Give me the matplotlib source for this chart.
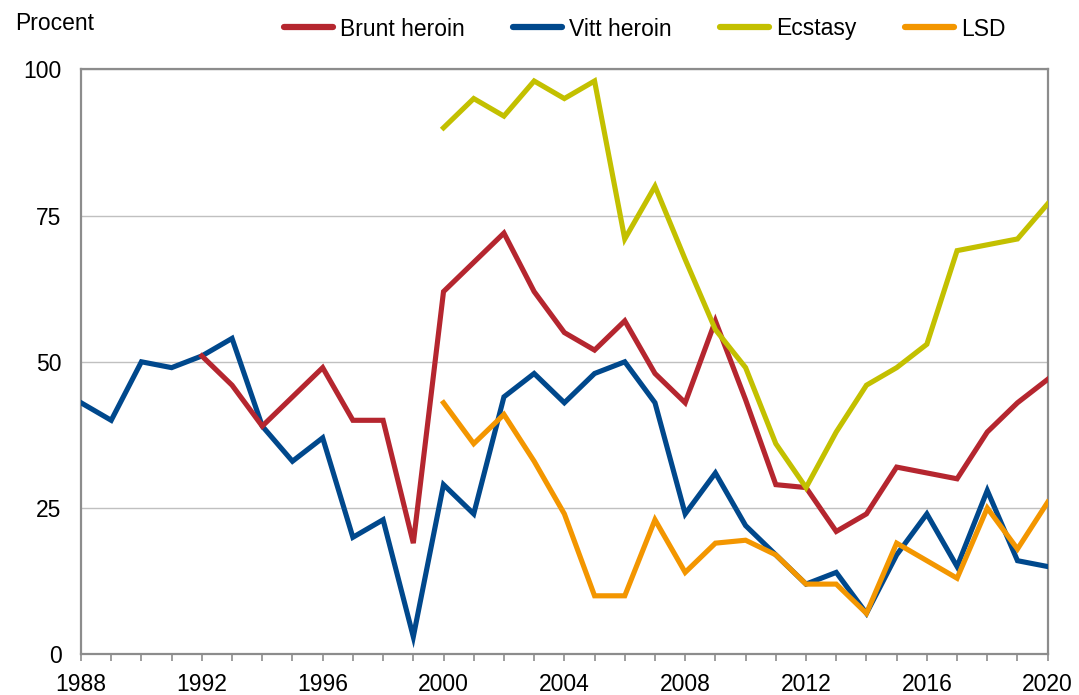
import matplotlib
matplotlib.use("Agg")
import matplotlib.pyplot as plt

plt.rcParams['font.family'] = ['Liberation Sans', 'DejaVu Sans']

years = list(range(1988, 2021))

# Brunt heroin (from 1992)
brunt_years = list(range(1992, 2021))
brunt = [51, 46, 39, 44, 49, 40, 40, 19, 62, 67, 72, 62, 55, 52, 57, 48, 43,
         57, 43.5, 29, 28.5, 21, 24, 32, 31, 30, 38, 43, 47]

# Vitt heroin (1988-2020)
vitt = [43, 40, 50, 49, 51, 54, 39, 33, 37, 20, 23, 3, 29, 24, 44, 48, 43,
        48, 50, 43, 24, 31, 22, 17, 12, 14, 7, 17, 24, 15, 28, 16, 15]

# Ecstasy and LSD (from 2000)
late_years = list(range(2000, 2021))
ecstasy = [90, 95, 92, 98, 95, 98, 71, 80, 67.5, 55.5, 49, 36, 28.5, 38, 46,
           49, 53, 69, 70, 71, 77]
lsd = [43, 36, 41, 33, 24, 10, 10, 23, 14, 19, 19.5, 17, 12, 12, 7, 19, 16,
       13, 25, 18, 26]

series_names = ['Brunt heroin', 'Vitt heroin', 'Ecstasy', 'LSD']
colors = ['#b5262f', '#00488c', '#c3c000', '#f39600']

fs = 16.5

fig = plt.figure(figsize=(10.79, 6.95), dpi=100)
ax = fig.add_axes([81 / 1079, 1 - 654.3 / 695, (1047.7 - 81) / 1079, (654.3 - 69.3) / 695])

lw = 3.7
ax.plot(years, vitt, color=colors[1], lw=lw, solid_joinstyle='miter', label=series_names[1], zorder=3)
ax.plot(brunt_years, brunt, color=colors[0], lw=lw, solid_joinstyle='miter', label=series_names[0], zorder=4)
ax.plot(late_years, ecstasy, color=colors[2], lw=lw, solid_joinstyle='miter', label=series_names[2], zorder=5)
ax.plot(late_years, lsd, color=colors[3], lw=lw, solid_joinstyle='miter', label=series_names[3], zorder=6)

ax.set_xlim(1988, 2020)
ax.set_ylim(0, 100)
ax.set_xticks(years, minor=True)
ax.set_xticks(list(range(1988, 2021, 4)))
ax.set_yticks([0, 25, 50, 75, 100])
ax.yaxis.grid(True, color='#c0c0c0', lw=1.0)
ax.set_axisbelow(True)

for s in ax.spines.values():
    s.set_color('#8c8c8c')
    s.set_linewidth(1.6)

ax.tick_params(axis='y', length=0, pad=14, labelsize=fs)
ax.tick_params(axis='x', which='both', direction='out', length=5, width=1.2,
               color='#8c8c8c', pad=8.5, labelsize=fs)

fig.text(15 / 1079, 1 - 23 / 695, 'Procent', fontsize=fs, va='center', ha='left')

handles, labels = ax.get_legend_handles_labels()
order = [labels.index(n) for n in series_names]
leg = fig.legend([handles[i] for i in order], [labels[i] for i in order],
                 loc='center left', bbox_to_anchor=(284 / 1079, 1 - 29 / 695),
                 ncol=4, frameon=False, fontsize=fs, handlelength=2.15,
                 handletextpad=0.3, columnspacing=2.1, borderpad=0, borderaxespad=0)
for h in leg.get_lines():
    h.set_linewidth(4.5)
    h.set_solid_capstyle('round')

fig.savefig('out.png', dpi=100)
